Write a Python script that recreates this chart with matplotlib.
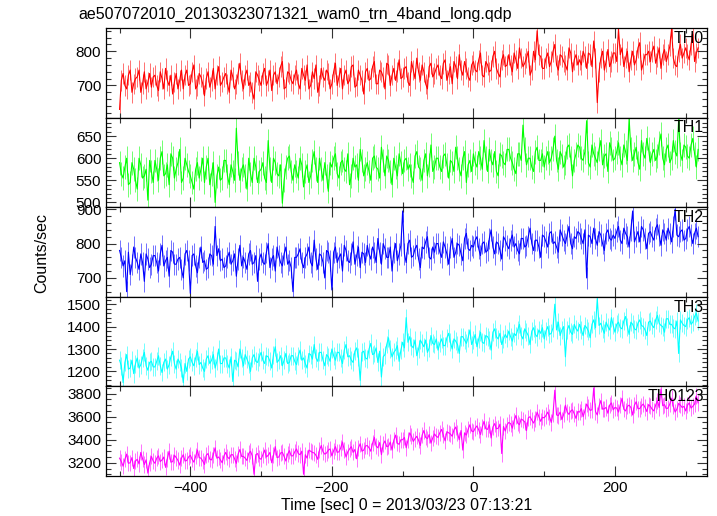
import numpy as np
import matplotlib
matplotlib.use("Agg")
import matplotlib.pyplot as plt
from matplotlib.ticker import MultipleLocator

plt.rcParams['font.family'] = ['Liberation Sans', 'DejaVu Sans']

# time sampling (sec): start, step; second set of readings sits half a step later
t_start = -500
t_step = 5

th0 = [630, 735, 690, 745, 705, 725, 680, 740, 710, 695,
       730, 685, 720, 750, 700, 675, 735, 715, 690, 745,
       705, 760, 700, 725, 670, 740, 715, 690, 755, 710,
       735, 680, 725, 705, 765, 690, 745, 710, 660, 730,
       700, 750, 715, 685, 740, 725, 770, 695, 735, 705,
       745, 690, 730, 760, 700, 720, 680, 750, 715, 735,
       705, 765, 725, 690, 745, 715, 760, 700, 730, 675,
       750, 720, 770, 705, 740, 690, 760, 730, 715, 775,
       725, 755, 700, 745, 780, 715, 740, 690, 765, 735,
       760, 720, 775, 735, 705, 755, 790, 730, 750, 715,
       770, 740, 795, 725, 760, 745, 800, 735, 775, 755,
       790, 740, 775, 810, 755, 780, 730, 800, 860, 785,
       750, 795, 770, 820, 745, 785, 760, 810, 740, 790,
       775, 800, 750, 790, 830, 650, 780, 745, 805, 770,
       795, 865, 810, 780, 740, 800, 775, 825, 765, 790,
       770, 815, 785, 750, 805, 790, 865, 760, 800, 780,
       810, 775, 850, 795]
th0_half = [715, 700, 730, 680, 720, 745, 705, 690, 735, 725,
            700, 740, 690, 715, 730, 710, 690, 745, 730, 700,
            740, 690, 735, 705, 720, 695, 750, 730, 700, 725,
            705, 745, 690, 735, 715, 730, 700, 680, 740, 715,
            735, 700, 745, 730, 705, 755, 690, 740, 715, 730,
            705, 750, 715, 690, 740, 760, 700, 725, 745, 690,
            740, 700, 750, 730, 705, 755, 695, 745, 715, 740,
            715, 755, 705, 745, 725, 765, 700, 750, 740, 720,
            750, 710, 770, 720, 740, 760, 705, 755, 725, 750,
            730, 765, 715, 755, 770, 720, 745, 770, 725, 760,
            745, 775, 730, 770, 740, 785, 750, 725, 790, 760,
            760, 795, 750, 780, 765, 800, 745, 775, 790, 750,
            780, 755, 800, 760, 790, 770, 745, 795, 775, 760,
            760, 785, 795, 755, 780, 740, 800, 770, 755, 795,
            770, 790, 755, 800, 775, 760, 810, 745, 790, 800,
            800, 765, 810, 790, 770, 815, 780, 755, 820, 795,
            790, 820, 770, 810]

th1 = [590, 555, 600, 545, 575, 530, 585, 560, 505, 570,
       595, 550, 615, 565, 540, 600, 575, 620, 555, 585,
       560, 530, 590, 575, 545, 600, 565, 500, 580, 555,
       595, 540, 570, 668, 550, 585, 530, 565, 600, 545,
       575, 555, 640, 545, 590, 560, 498, 580, 605, 550,
       570, 600, 535, 585, 560, 615, 545, 575, 590, 525,
       580, 610, 555, 595, 570, 540, 600, 585, 620, 560,
       590, 550, 605, 575, 625, 560, 595, 540, 580, 610,
       565, 600, 585, 545, 615, 575, 595, 560, 630, 580,
       600, 570, 610, 555, 590, 625, 575, 600, 545, 595,
       610, 580, 600, 640, 570, 595, 615, 560, 605, 585,
       620, 590, 565, 610, 675, 585, 600, 570, 625, 595,
       580, 615, 600, 650, 575, 605, 590, 630, 560, 610,
       625, 595, 685, 580, 610, 590, 640, 605, 570, 620,
       600, 635, 585, 615, 690, 595, 625, 575, 610, 645,
       590, 620, 605, 655, 585, 630, 600, 615, 688, 595,
       625, 600, 645, 580]
th1_half = [565, 580, 540, 590, 550, 600, 555, 575, 595, 545,
            575, 600, 560, 585, 610, 555, 590, 545, 600, 570,
            545, 575, 555, 600, 580, 540, 590, 560, 550, 595,
            560, 585, 550, 590, 575, 560, 600, 545, 580, 570,
            590, 545, 575, 600, 565, 585, 550, 600, 570, 585,
            555, 585, 570, 545, 595, 575, 600, 550, 560, 590,
            600, 565, 590, 575, 610, 560, 580, 550, 595, 575,
            570, 600, 580, 555, 595, 605, 570, 600, 560, 590,
            595, 575, 560, 605, 580, 550, 610, 585, 570, 600,
            580, 605, 585, 595, 570, 600, 560, 615, 585, 570,
            590, 615, 575, 600, 620, 585, 570, 610, 590, 620,
            600, 575, 610, 595, 620, 600, 580, 615, 595, 610,
            600, 590, 620, 595, 615, 580, 625, 600, 595, 630,
            600, 615, 590, 630, 600, 620, 585, 610, 635, 595,
            615, 600, 630, 595, 620, 610, 590, 640, 600, 620,
            610, 595, 635, 600, 620, 590, 640, 605, 610, 630,
            605, 630, 610, 620]

th2 = [780, 735, 660, 710, 790, 745, 770, 690, 755, 740,
       765, 720, 795, 750, 705, 775, 740, 760, 700, 780,
       655, 770, 715, 790, 750, 730, 765, 850, 785, 755,
       735, 775, 750, 705, 795, 760, 725, 780, 745, 690,
       770, 740, 800, 755, 720, 765, 735, 790, 750, 660,
       760, 785, 730, 770, 745, 810, 725, 765, 700, 775,
       665, 790, 760, 720, 780, 745, 805, 765, 730, 770,
       795, 755, 775, 815, 740, 785, 760, 720, 800, 770,
       895, 745, 810, 765, 795, 730, 785, 820, 755, 775,
       800, 760, 790, 740, 815, 775, 795, 750, 830, 780,
       790, 820, 765, 805, 780, 840, 770, 800, 755, 810,
       785, 825, 800, 770, 815, 795, 845, 780, 810, 760,
       820, 790, 835, 805, 775, 825, 800, 850, 785, 815,
       830, 800, 700, 820, 845, 795, 825, 780, 840, 810,
       815, 850, 800, 830, 790, 895, 820, 805, 840, 785,
       835, 810, 855, 795, 830, 845, 805, 900, 820, 840,
       815, 850, 800, 845]
th2_half = [760, 750, 775, 740, 760, 725, 745, 770, 730, 765,
            745, 770, 735, 760, 780, 740, 755, 725, 770, 750,
            765, 735, 760, 745, 725, 770, 740, 765, 750, 730,
            760, 740, 770, 755, 735, 745, 770, 740, 765, 755,
            745, 775, 730, 765, 790, 745, 770, 740, 730, 760,
            770, 745, 760, 790, 735, 755, 770, 745, 780, 750,
            775, 745, 770, 795, 750, 770, 740, 790, 775, 745,
            770, 790, 745, 775, 800, 760, 790, 775, 750, 795,
            770, 800, 760, 785, 755, 790, 805, 760, 790, 800,
            775, 805, 770, 790, 760, 800, 770, 815, 785, 795,
            810, 785, 800, 775, 815, 790, 805, 780, 820, 795,
            810, 790, 780, 815, 790, 820, 800, 810, 790, 825,
            805, 830, 800, 790, 840, 810, 825, 800, 820, 835,
            815, 840, 825, 800, 815, 835, 800, 830, 815, 825,
            835, 810, 845, 820, 840, 805, 835, 850, 815, 830,
            820, 845, 825, 840, 810, 830, 850, 825, 835, 810,
            840, 825, 830, 820]

th3 = [1250, 1150, 1275, 1215, 1190, 1260, 1230, 1285, 1205, 1245,
       1220, 1270, 1195, 1255, 1230, 1290, 1210, 1240, 1150, 1200,
       1265, 1225, 1290, 1240, 1200, 1270, 1250, 1215, 1300, 1235,
       1260, 1215, 1155, 1245, 1300, 1225, 1255, 1200, 1275, 1240,
       1285, 1235, 1265, 1215, 1310, 1250, 1225, 1280, 1240, 1270,
       1230, 1295, 1260, 1215, 1275, 1320, 1245, 1285, 1225, 1265,
       1300, 1250, 1285, 1235, 1320, 1270, 1240, 1305, 1160, 1290,
       1255, 1325, 1280, 1240, 1175, 1275, 1350, 1265, 1295, 1245,
       1330, 1440, 1355, 1305, 1270, 1340, 1310, 1285, 1360, 1320,
       1295, 1345, 1315, 1370, 1300, 1335, 1280, 1355, 1325, 1385,
       1340, 1310, 1375, 1325, 1355, 1295, 1390, 1345, 1320, 1365,
       1380, 1335, 1360, 1410, 1345, 1375, 1320, 1395, 1355, 1370,
       1345, 1400, 1370, 1500, 1420, 1385, 1265, 1405, 1365, 1390,
       1410, 1360, 1395, 1350, 1430, 1525, 1415, 1370, 1400, 1440,
       1375, 1420, 1390, 1445, 1365, 1410, 1385, 1430, 1400, 1360,
       1425, 1395, 1450, 1405, 1375, 1435, 1410, 1390, 1280, 1415,
       1400, 1440, 1420, 1460]
th3_half = [1225, 1240, 1210, 1250, 1235, 1215, 1260, 1225, 1240, 1220,
            1245, 1225, 1240, 1210, 1265, 1235, 1255, 1215, 1235, 1255,
            1240, 1260, 1230, 1215, 1255, 1235, 1275, 1245, 1235, 1260,
            1235, 1265, 1250, 1220, 1260, 1275, 1235, 1260, 1245, 1265,
            1250, 1270, 1245, 1275, 1240, 1270, 1250, 1235, 1270, 1245,
            1270, 1250, 1235, 1280, 1255, 1260, 1285, 1250, 1275, 1245,
            1270, 1285, 1260, 1295, 1265, 1250, 1290, 1265, 1285, 1260,
            1300, 1275, 1305, 1290, 1265, 1320, 1300, 1285, 1315, 1295,
            1305, 1330, 1315, 1340, 1300, 1325, 1340, 1305, 1325, 1345,
            1325, 1315, 1350, 1330, 1345, 1320, 1355, 1340, 1350, 1320,
            1365, 1345, 1330, 1360, 1340, 1375, 1355, 1370, 1345, 1350,
            1355, 1370, 1385, 1360, 1390, 1360, 1380, 1365, 1385, 1395,
            1380, 1365, 1395, 1385, 1360, 1400, 1385, 1375, 1410, 1380,
            1385, 1405, 1380, 1410, 1395, 1405, 1390, 1420, 1385, 1405,
            1410, 1395, 1425, 1400, 1420, 1390, 1415, 1405, 1385, 1420,
            1405, 1430, 1415, 1400, 1435, 1410, 1395, 1425, 1430, 1405,
            1430, 1410, 1445, 1425]

th0123 = [3240, 3170, 3275, 3200, 3150, 3230, 3290, 3185, 3110, 3255,
          3195, 3260, 3225, 3160, 3300, 3210, 3245, 3180, 3270, 3220,
          3265, 3205, 3310, 3240, 3185, 3280, 3225, 3330, 3250, 3200,
          3290, 3235, 3270, 3195, 3315, 3255, 3220, 3300, 3100, 3280,
          3230, 3310, 3265, 3200, 3340, 3250, 3290, 3215, 3305, 3260,
          3320, 3270, 3100, 3240, 3300, 3285, 3230, 3350, 3275, 3310,
          3260, 3340, 3295, 3380, 3250, 3320, 3290, 3235, 3365, 3310,
          3350, 3300, 3420, 3330, 3270, 3390, 3345, 3310, 3440, 3360,
          3400, 3330, 3460, 3385, 3430, 3350, 3480, 3410, 3370, 3450,
          3420, 3490, 3390, 3460, 3430, 3510, 3400, 3310, 3440, 3530,
          3470, 3520, 3445, 3560, 3490, 3415, 3540, 3500, 3280, 3475,
          3550, 3500, 3610, 3530, 3570, 3480, 3600, 3545, 3640, 3560,
          3590, 3640, 3550, 3830, 3610, 3575, 3700, 3620, 3660, 3585,
          3640, 3600, 3710, 3655, 3850, 3615, 3740, 3670, 3630, 3720,
          3680, 3640, 3760, 3650, 3700, 3615, 3730, 3670, 3710, 3645,
          3690, 3650, 3740, 3840, 3705, 3675, 3760, 3640, 3715, 3680,
          3650, 3720, 3690, 3780]
th0123_half = [3210, 3230, 3195, 3245, 3215, 3190, 3235, 3225, 3200, 3215,
               3240, 3210, 3250, 3235, 3205, 3265, 3220, 3240, 3215, 3250,
               3230, 3255, 3245, 3215, 3265, 3230, 3270, 3240, 3225, 3260,
               3250, 3270, 3235, 3275, 3255, 3240, 3280, 3260, 3270, 3240,
               3270, 3250, 3290, 3265, 3245, 3285, 3255, 3275, 3260, 3295,
               3280, 3300, 3270, 3310, 3290, 3265, 3310, 3295, 3285, 3320,
               3305, 3290, 3330, 3310, 3295, 3340, 3315, 3330, 3300, 3345,
               3330, 3370, 3345, 3375, 3360, 3340, 3380, 3395, 3370, 3400,
               3420, 3395, 3430, 3410, 3395, 3440, 3420, 3445, 3415, 3430,
               3460, 3440, 3470, 3450, 3485, 3455, 3480, 3460, 3490, 3475,
               3500, 3485, 3510, 3495, 3530, 3510, 3495, 3535, 3515, 3530,
               3540, 3565, 3545, 3580, 3555, 3590, 3570, 3580, 3600, 3595,
               3610, 3600, 3625, 3615, 3640, 3620, 3640, 3650, 3625, 3645,
               3670, 3650, 3680, 3660, 3645, 3690, 3665, 3680, 3700, 3660,
               3675, 3700, 3665, 3690, 3680, 3700, 3670, 3695, 3680, 3705,
               3665, 3700, 3680, 3695, 3670, 3710, 3690, 3665, 3700, 3690,
               3700, 3675, 3710, 3720]

# per-bin errors (counts/sec) for each band
errors = [30, 27, 31, 40, 70]

names = ['TH0', 'TH1', 'TH2', 'TH3', 'TH0123']
series = [(th0, th0_half), (th1, th1_half), (th2, th2_half),
          (th3, th3_half), (th0123, th0123_half)]
colors = ['#ff0000', '#00ff00', '#0000ff', '#00ffff', '#ff00ff']
light = ['#ff7070', '#70ff70', '#7070ff', '#70ffff', '#ff70ff']
ylims = [(606, 868), (489, 692), (645, 906), (1133, 1533), (3085, 3863)]
majors = [100, 50, 100, 100, 200]
minors = [20, 10, 20, 20, 50]

fig = plt.figure(figsize=(7.17, 5.16), dpi=100)
fig.subplots_adjust(left=0.148, right=0.986, top=0.9457, bottom=0.0775, hspace=0)
axes = fig.subplots(5, 1, sharex=True)

for ax, name, (ya, yb), c, lc, yl, mj, mn, err in zip(axes, names, series, colors, light,
                                                      ylims, majors, minors, errors):
    ya = np.asarray(ya, dtype=float)
    yb = np.asarray(yb, dtype=float)
    ta = t_start + t_step * np.arange(len(ya))
    tb = ta + t_step / 2
    t = np.column_stack([ta, tb]).ravel()
    y = np.column_stack([ya, yb]).ravel()
    ax.vlines(t, y - err, y + err, color=lc, lw=0.7, zorder=1)
    ax.plot(t, y, color=c, lw=0.8, zorder=2)
    ax.set_ylim(*yl)
    ax.set_xlim(-519, 330)
    ax.yaxis.set_major_locator(MultipleLocator(mj))
    ax.yaxis.set_minor_locator(MultipleLocator(mn))
    ax.xaxis.set_major_locator(MultipleLocator(200))
    ax.xaxis.set_minor_locator(MultipleLocator(100))
    ax.tick_params(which='both', direction='in', top=True, right=True,
                   labelsize=11, width=0.8, color='#333333')
    ax.tick_params(which='major', length=7)
    ax.tick_params(which='minor', length=3.5)
    for s in ax.spines.values():
        s.set_linewidth(0.9)
    ax.text(0.995, 0.97, name, transform=ax.transAxes, ha='right', va='top',
            fontsize=11.5, zorder=5)

axes[-1].set_xlabel('Time [sec] 0 = 2013/03/23 07:13:21', fontsize=11.5, labelpad=2)
fig.text(0.058, 0.51, 'Counts/sec', rotation=90, ha='center', va='center', fontsize=11.5)
fig.text(0.109, 0.972, 'ae507072010_20130323071321_wam0_trn_4band_long.qdp',
         ha='left', va='center', fontsize=11.5)

fig.savefig('out.png', dpi=100)
